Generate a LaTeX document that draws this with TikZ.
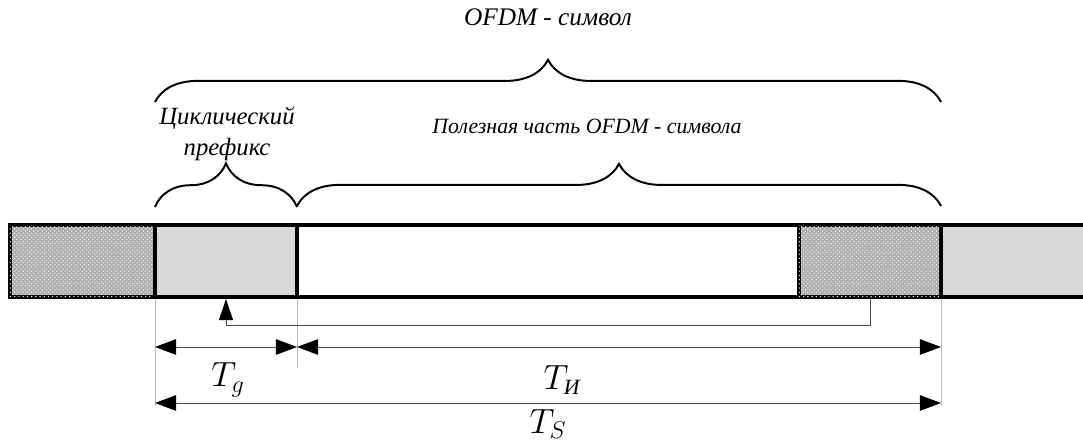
\documentclass[tikz,border=0pt]{standalone}
\usepackage{fontspec}
\setmainfont{Liberation Serif}
\usetikzlibrary{arrows.meta,decorations.pathreplacing,patterns,positioning}

\tikzset{
  seg/.style={draw=black,line width=2.6pt},
  hatchseg/.style={seg,fill=gray!65,postaction={pattern=crosshatch dots,pattern color=white}},
  prefseg/.style={seg,fill=gray!30},
  guide/.style={gray!55,line width=0.6pt},
  dimline/.style={black!70,line width=0.7pt,{Triangle[length=15pt,width=11pt,black]}-{Triangle[length=15pt,width=11pt,black]}},
  brc/.style={decorate,decoration={brace,amplitude=#1},line width=1.4pt},
  lbl/.style={font=\itshape\fontsize{#1}{22}\selectfont},
  tlbl/.style={font=\fontsize{23}{27}\selectfont}
}

\begin{document}
\begin{tikzpicture}[x=0.025cm,y=-0.025cm]
\useasboundingbox (0,0) rectangle (1083,442);
% Boundaries of the bar
\coordinate (b0) at (10,225);
\coordinate (b1) at (155,225);
\coordinate (b2) at (297,225);
\coordinate (b3) at (799,225);
\coordinate (b4) at (941,225);
\coordinate (b5) at (1090,225);
% Draw the segments
\draw[hatchseg] (b0) rectangle (155,297);
\draw[prefseg] (b1) rectangle (297,297);
\draw[seg,fill=white] (b2) rectangle (799,297);
\draw[hatchseg] (b3) rectangle (941,297);
\draw[prefseg] (b4) rectangle (1090,297);
% Draw the guide lines
\draw[guide] (155,299) -- (155,406);
\draw[guide] (297,299) -- (297,368);
\draw[guide] (941,299) -- (941,406);
% Draw the copy arrow
\coordinate (src) at (870,299);
\coordinate (dst) at (226,299);
\draw[black!70,line width=0.7pt,-{Triangle[length=15pt,width=10pt,black]}]
  (src) -- (870,325) -- (226,325) -- (dst);
% Draw the durations
\coordinate (d1) at (155,347);
\coordinate (d2) at (297,347);
\coordinate (d3) at (941,347);
\coordinate (d4) at (155,403);
\coordinate (d5) at (941,403);
\draw[dimline] (d1) -- (d2);
\draw[dimline] (d2) -- (d3);
\draw[dimline] (d4) -- (d5);
\node[tlbl] (tg) at (228,380) {$T_g$};
\node[tlbl] (tu) at (562,380) {$T_{\mbox{\fontsize{15.5}{17}\selectfont\itshape И}}$};
\node[tlbl] (ts) at (548,424) {$T_S$};
% Draw the braces
\draw[brc=31pt] (155,207) -- (297,207);
\draw[brc=30pt] (297,206) -- (941,206);
\draw[brc=30pt] (155,102) -- (941,102);
\node[lbl=17.6,align=center] (cp) at (227,134) {Циклический\\префикс};
\node[lbl=15.5] (useful) at (587,126) {Полезная часть OFDM - символа};
\node[lbl=18] (sym) at (548,17) {OFDM - символ};
\end{tikzpicture}
\end{document}
